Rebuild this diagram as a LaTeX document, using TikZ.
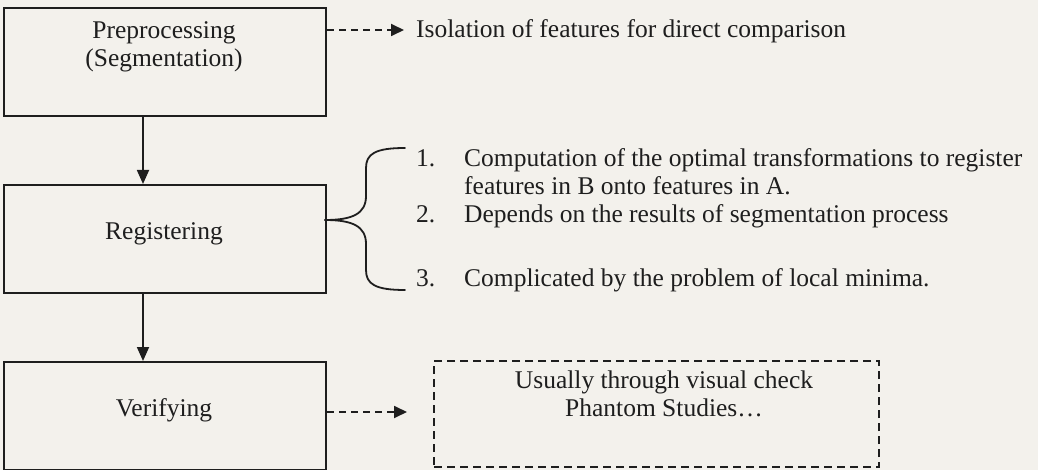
\documentclass[tikz,border=0pt]{standalone}
\usepackage{fontspec}
\setmainfont{Liberation Serif}
\usetikzlibrary{arrows.meta,calc}
\definecolor{paper}{RGB}{243,241,236}
\definecolor{ink}{RGB}{30,30,30}
\begin{document}
\begin{tikzpicture}[x=1pt,y=-1pt,
  txt/.style={text=ink,font=\fontsize{25.5}{28}\selectfont,inner sep=0pt},
  stage/.style={draw=ink,line width=2pt,minimum width=322pt,minimum height=108pt,inner sep=0pt,anchor=north west},
  notebox/.style={draw=ink,line width=2pt,dash pattern=on 8pt off 5pt,minimum width=445pt,minimum height=106pt,inner sep=0pt,anchor=north west},
  flow/.style={draw=ink,line width=1.8pt,-{Triangle[length=14pt,width=12pt]}},
  hint/.style={draw=ink,line width=1.8pt,dash pattern=on 7pt off 5pt,-{Triangle[length=13pt,width=12pt]}},
  brace/.style={draw=ink,line width=1.8pt,line cap=round}]
% page
\fill[paper] (0,0) rectangle (1038,470);
\useasboundingbox (0,0) rectangle (1038,470);

% the three stages
\node[stage] (prep) at (3,7) {};
\node[stage] (reg) at (3,184) {};
\node[stage] (ver) at (3,361) {};
\node[txt,align=center] (prep-t) at (164,47) {Preprocessing\\(Segmentation)};
\node[txt] (reg-t) at (164,234) {Registering};
\node[txt] (ver-t) at (164,410) {Verifying};

% flow between stages
\coordinate (axis) at (143,0);
\draw[flow] (prep.south -| axis) -- (reg.north -| axis);
\draw[flow] (reg.south -| axis) -- (ver.north -| axis);

% segmentation aim
\node[txt,anchor=base west] (iso) at (416,38) {Isolation of features for direct comparison};
\coordinate (iso-in) at (404,30);
\draw[hint] (prep.east |- iso-in) -- (iso-in);

% registration notes with brace
\coordinate (cusp) at (325,220);
\coordinate (btop) at (405,148);
\coordinate (bbot) at (405,290);
\draw[brace] (cusp) .. controls (352,220) and (366,214) .. (366,196)
  -- (366,168) .. controls (366,154) and (375,148) .. (btop);
\draw[brace] (cusp) .. controls (352,220) and (366,226) .. (366,244)
  -- (366,270) .. controls (366,284) and (375,290) .. (bbot);

\node[txt,anchor=base west] (n1) at (416,167) {1.};
\node[txt,anchor=base west] (l1) at (464,167) {Computation of the optimal transformations to register};
\node[txt,anchor=base west] (l1b) at (464,195) {features in B onto features in A.};
\node[txt,anchor=base west] (n2) at (416,223) {2.};
\node[txt,anchor=base west] (l2) at (464,223) {Depends on the results of segmentation process};
\node[txt,anchor=base west] (n3) at (416,286) {3.};
\node[txt,anchor=base west] (l3) at (464,286) {Complicated by the problem of local minima.};

% verification notes
\node[notebox] (chk) at (433,360) {};
\node[txt,align=center] (chk-t) at (664,394) {Usually through visual check\\Phantom Studies…};
\coordinate (chk-in) at (chk.west |- 0,412);
\draw[hint] (ver.east |- chk-in) -- ($(chk-in)+(-26,0)$);
\end{tikzpicture}
\end{document}
